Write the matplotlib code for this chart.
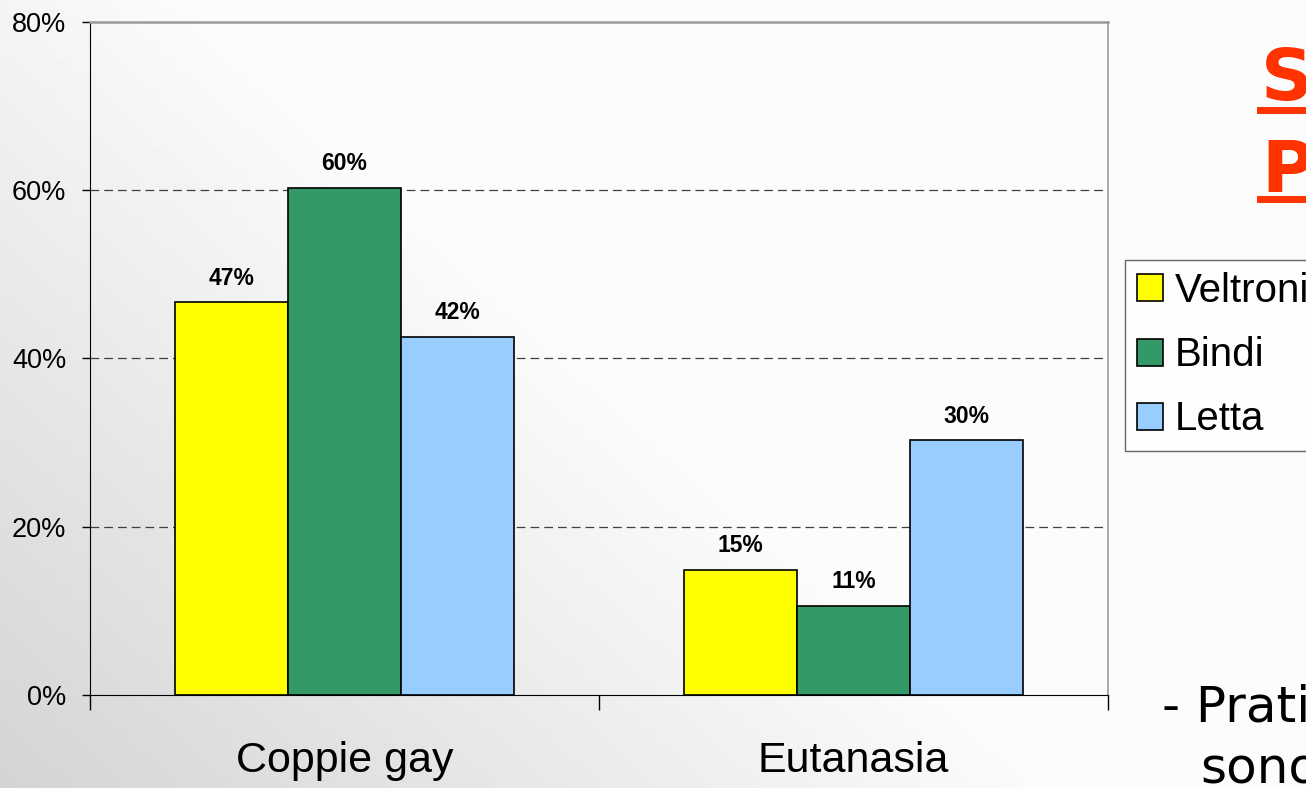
import numpy as np
import matplotlib
matplotlib.use("Agg")
import matplotlib.pyplot as plt
from matplotlib.lines import Line2D
from matplotlib.patches import Patch

# data
categories = ["Coppie gay", "Eutanasia"]
series = ["Veltroni", "Bindi", "Letta"]
veltroni = [46.7, 14.9]
bindi = [60.3, 10.6]
letta = [42.6, 30.3]
value_labels = [["47%", "15%"], ["60%", "11%"], ["42%", "30%"]]
colors = ["#FFFF00", "#339966", "#99CCFF"]
yticks = [0, 20, 40, 60, 80]

W, H = 1306, 788
fig = plt.figure(figsize=(W / 100, H / 100), dpi=100)

# slide background: light gradient, darker towards bottom-left
bg = fig.add_axes([0, 0, 1, 1], zorder=-10)
xx, yy = np.meshgrid(np.linspace(0, 1, 400), np.linspace(0, 1, 240))
u = 0.6 * xx + 0.4 * yy
shade = np.clip(0.83 + 0.32 * u, 0, 0.985)
bg.imshow(shade, cmap="gray", vmin=0, vmax=1, origin="lower",
          extent=[0, 1, 0, 1], aspect="auto")
bg.axis("off")

ax = fig.add_axes([90 / W, (H - 695) / H, (1108 - 90) / W, (695 - 22) / H])
ax.set_facecolor("none")

x = np.arange(len(categories)) + 0.5
width = 0.222
all_vals = [veltroni, bindi, letta]
for i, (name, vals) in enumerate(zip(series, all_vals)):
    pos = x + (i - 1) * width
    ax.bar(pos, vals, width=width, color=colors[i], edgecolor="black",
           linewidth=1.2, zorder=3)
    for px, v, lab in zip(pos, vals, value_labels[i]):
        ax.annotate(lab, (px, v), xytext=(0, 9), textcoords="offset points",
                    ha="center", va="bottom", fontsize=16.5, fontweight="bold",
                    family="Liberation Sans", zorder=4)

ax.set_xlim(0, len(categories))
ax.set_ylim(0, 80)
ax.set_yticks(yticks)
ax.set_yticklabels([f"{t}%" for t in yticks], family="Liberation Sans", fontsize=19.5)
ax.tick_params(axis="y", direction="out", length=6, width=1, pad=11, colors="black")

ax.set_xticks([0, 1, 2])
ax.set_xticklabels([])
ax.tick_params(axis="x", which="major", direction="out", length=11, width=1)
ax.set_xticks(x, minor=True)
ax.set_xticklabels(categories, minor=True, family="Liberation Sans", fontsize=31)
ax.tick_params(axis="x", which="minor", length=0, pad=33)

for t in [20, 40, 60]:
    ax.axhline(t, color="#404040", linestyle=(0, (7, 4)), linewidth=0.9, zorder=1)

ax.spines["left"].set_color("black")
ax.spines["bottom"].set_color("black")
ax.spines["top"].set_color("#9a9a9a")
ax.spines["right"].set_color("#9a9a9a")
ax.spines["top"].set_linewidth(1.8)
ax.spines["right"].set_linewidth(1.2)

handles = [Patch(facecolor=c, edgecolor="black", linewidth=1.2) for c in colors]
leg = fig.legend(handles, series, loc="upper left",
                 bbox_to_anchor=(1125 / W, 1 - 260 / H), borderaxespad=0,
                 prop={"family": "Liberation Sans", "size": 29},
                 frameon=True, fancybox=False, handlelength=0.65,
                 handleheight=0.65, handletextpad=0.28, labelspacing=0.65,
                 borderpad=0.3)
leg.get_frame().set_edgecolor("#404040")
leg.get_frame().set_linewidth(1.0)
leg.get_frame().set_facecolor("white")

# cropped slide title, orange-red and underlined
red = "#FF3300"
fig.text(1261 / W, 1 - 100 / H, "S", color=red, fontsize=52, fontweight="bold",
         family="DejaVu Sans", ha="left", va="baseline")
fig.text(1261 / W, 1 - 192 / H, "P", color=red, fontsize=52, fontweight="bold",
         family="DejaVu Sans", ha="left", va="baseline")
for yline in [110, 199]:
    fig.add_artist(Line2D([1260 / W, 1.0], [1 - yline / H, 1 - yline / H],
                          transform=fig.transFigure, color=red, linewidth=5))

# cropped slide body text
fig.text(1162 / W, 1 - 722 / H, "- Pratiche", fontsize=36, family="DejaVu Sans",
         ha="left", va="baseline", color="black")
fig.text(1200 / W, 1 - 783 / H, "sono", fontsize=36, family="DejaVu Sans",
         ha="left", va="baseline", color="black")

fig.savefig("out.png", dpi=100)
